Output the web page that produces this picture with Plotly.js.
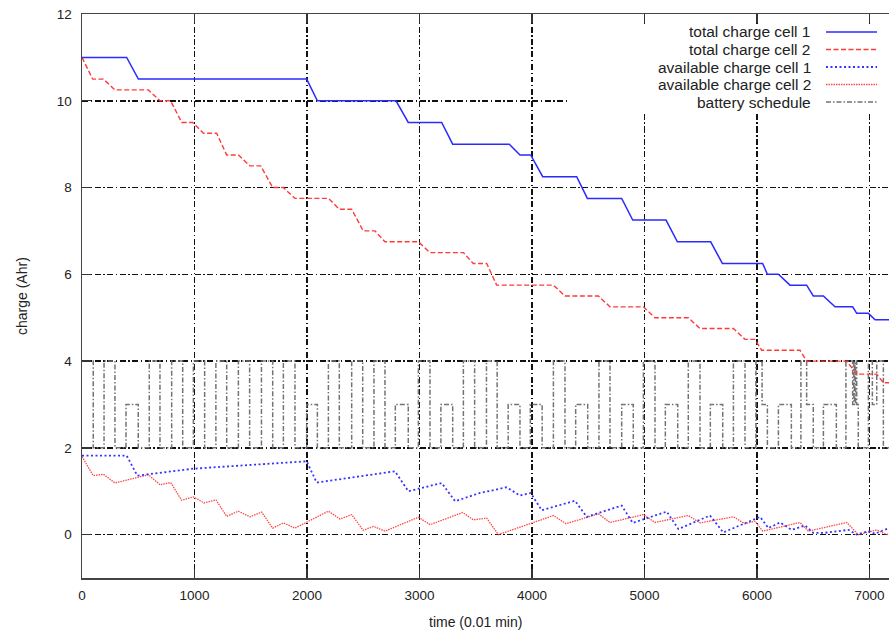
<!DOCTYPE html>
<html>
<head>
<meta charset="utf-8">
<script src="https://cdn.plot.ly/plotly-3.0.1.min.js"></script>
<style>html,body{margin:0;padding:0;background:#fff;}#chart{width:889px;height:634px;}</style>
</head>
<body>
<div id="chart"></div>
<script>
// ---- data ----
const seriesNames = ["total charge cell 1", "total charge cell 2", "available charge cell 1", "available charge cell 2", "battery schedule"];

const tc1X = [0, 397, 501, 1997, 2092, 2791, 2900, 3197, 3295, 3798, 3893, 3988, 4095, 4397, 4492, 4797, 4895, 5191, 5292, 5588, 5692, 6050, 6092, 6190, 6293, 6441, 6500, 6590, 6693, 6850, 6886, 6990, 7049, 7180];
const tc1Y = [11, 11, 10.5, 10.5, 10, 10, 9.5, 9.5, 9, 9, 8.75, 8.75, 8.25, 8.25, 7.75, 7.75, 7.25, 7.25, 6.75, 6.75, 6.25, 6.25, 6.0, 6.0, 5.75, 5.75, 5.5, 5.5, 5.25, 5.25, 5.1, 5.1, 4.95, 4.95];

const tc2X = [0, 95, 190, 293, 590, 693, 788, 886, 984, 1079, 1197, 1286, 1390, 1493, 1588, 1695, 1790, 1893, 2190, 2287, 2397, 2500, 2604, 2693, 2990, 3093, 3390, 3478, 3597, 3686, 4190, 4293, 4590, 4693, 4990, 5093, 5389, 5493, 5790, 5893, 5982, 6041, 6382, 6441, 6797, 6886, 7064, 7123, 7180];
const tc2Y = [11, 10.5, 10.5, 10.25, 10.25, 10, 10, 9.5, 9.5, 9.25, 9.25, 8.75, 8.75, 8.5, 8.5, 8, 8, 7.75, 7.75, 7.5, 7.5, 7, 7, 6.75, 6.75, 6.5, 6.5, 6.25, 6.25, 5.75, 5.75, 5.5, 5.5, 5.25, 5.25, 5, 5, 4.75, 4.75, 4.5, 4.5, 4.25, 4.25, 4, 4, 3.7, 3.7, 3.5, 3.5];

const ac1X = [0, 397, 492, 990, 1997, 2086, 2782, 2901, 3197, 3316, 3538, 3775, 3893, 3988, 4086, 4382, 4486, 4797, 4895, 5197, 5301, 5582, 5700, 6027, 6101, 6204, 6308, 6427, 6500, 6600, 6812, 6886, 6990, 7049, 7180];
const ac1Y = [1.82, 1.82, 1.36, 1.52, 1.69, 1.2, 1.46, 1.0, 1.19, 0.77, 0.96, 1.09, 0.9, 0.96, 0.56, 0.78, 0.41, 0.67, 0.27, 0.53, 0.13, 0.44, 0.05, 0.41, 0.15, 0.28, 0.11, 0.21, 0.04, 0.04, 0.11, 0.0, 0.08, 0.02, 0.16];

const ac2X = [0, 100, 190, 293, 590, 693, 788, 886, 990, 1084, 1191, 1286, 1390, 1493, 1597, 1695, 1790, 1893, 2190, 2293, 2397, 2500, 2590, 2693, 2990, 3093, 3384, 3478, 3597, 3701, 4190, 4302, 4590, 4693, 4990, 5093, 5389, 5493, 5790, 5893, 5982, 6050, 6382, 6456, 6797, 6900, 7064, 7150, 7180];
const ac2Y = [1.8, 1.36, 1.39, 1.19, 1.38, 1.15, 1.2, 0.79, 0.87, 0.73, 0.8, 0.42, 0.54, 0.41, 0.52, 0.15, 0.27, 0.15, 0.54, 0.36, 0.46, 0.1, 0.19, 0.08, 0.4, 0.23, 0.51, 0.34, 0.38, 0.0, 0.44, 0.25, 0.48, 0.28, 0.46, 0.28, 0.44, 0.27, 0.41, 0.25, 0.31, 0.08, 0.28, 0.08, 0.28, 0.0, 0.11, 0.0, 0.02];

// battery schedule: start time of each segment and its level
const schedX = [0, 100, 196, 293, 391, 500, 598, 693, 797, 895, 990, 1090, 1190, 1286, 1390, 1490, 1595, 1695, 1790, 1893, 1997, 2092, 2190, 2287, 2397, 2495, 2595, 2693, 2785, 2900, 2990, 3093, 3190, 3295, 3390, 3490, 3595, 3690, 3788, 3893, 3985, 4090, 4190, 4293, 4388, 4495, 4595, 4693, 4797, 4900, 4990, 5093, 5185, 5295, 5389, 5493, 5585, 5695, 5790, 5893, 5990, 6045, 6092, 6190, 6305, 6390, 6441, 6500, 6590, 6705, 6790, 6850, 6860, 6868, 6876, 6886, 6900, 6990, 7025, 7064, 7123, 7180];
const schedY = [4, 2, 4, 2, 3, 2, 4, 2, 4, 2, 4, 2, 4, 2, 4, 2, 4, 2, 4, 2, 3, 2, 4, 2, 4, 2, 4, 2, 3, 2, 4, 2, 3, 2, 4, 2, 4, 2, 3, 2, 3, 2, 4, 2, 3, 2, 4, 2, 3, 2, 4, 2, 3, 2, 4, 2, 3, 2, 4, 2, 4, 3, 2, 3, 2, 4, 3, 2, 3, 2, 4, 3, 4, 3, 4, 3, 2, 4, 3, 4, 2, 2];

const xTicks = [0, 1000, 2000, 3000, 4000, 5000, 6000, 7000];
const yTicks = [0, 2, 4, 6, 8, 10, 12];

// ---- styles ----
const FONT = "Liberation Sans, Arial, sans-serif";
const styles = [
  {color: "#2b2bff", width: 1.5, dash: "solid"},
  {color: "#ff3a3a", width: 1.4, dash: "5px,2.5px"},
  {color: "#3434ff", width: 1.8, dash: "2px,2.5px"},
  {color: "#ff4848", width: 1.3, dash: "1.5px,1px"},
  {color: "#737373", width: 1.5, dash: "5px,2px,1.5px,2px"}
];
const GRID_DASH = "6px,2.5px,1.5px,2.5px";

const traces = [
  {x: schedX, y: schedY, mode: "lines", line: {shape: "hv", color: styles[4].color, width: styles[4].width, dash: styles[4].dash}, name: seriesNames[4]},
  {x: ac2X, y: ac2Y, mode: "lines", line: styles[3], name: seriesNames[3]},
  {x: ac1X, y: ac1Y, mode: "lines", line: styles[2], name: seriesNames[2]},
  {x: tc2X, y: tc2Y, mode: "lines", line: styles[1], name: seriesNames[1]},
  {x: tc1X, y: tc1Y, mode: "lines", line: styles[0], name: seriesNames[0]}
];

// plot area geometry (pixels) for paper-coordinate legend placement
const L = 82, T = 14, W = 807, H = 564;
const px = v => (v - L) / W;
const py = v => (T + H - v) / H;

const legendRows = [32, 49.5, 67, 84.5, 102];
const shapes = [{
  type: "rect", xref: "paper", yref: "paper", layer: "above",
  x0: px(570), x1: 1.0, y0: py(111), y1: py(24),
  fillcolor: "#ffffff", line: {width: 0}
}];
const annotations = [];
seriesNames.forEach((n, i) => {
  annotations.push({
    xref: "paper", yref: "paper", x: px(813), y: py(legendRows[i]),
    xanchor: "right", yanchor: "middle", showarrow: false, text: n,
    font: {family: FONT, size: 15.5, color: "#222"}
  });
  shapes.push({
    type: "line", xref: "paper", yref: "paper", layer: "above",
    x0: px(826), x1: px(877), y0: py(legendRows[i]), y1: py(legendRows[i]),
    line: {color: styles[i].color, width: styles[i].width, dash: styles[i].dash}
  });
});
annotations.push({
  xref: "paper", yref: "paper", x: px(475), y: py(622), xanchor: "center", yanchor: "middle",
  showarrow: false, text: "time (0.01 min)", font: {family: FONT, size: 14, color: "#222"}
});
annotations.push({
  xref: "paper", yref: "paper", x: px(22), y: py(296), xanchor: "center", yanchor: "middle",
  showarrow: false, textangle: -90, text: "charge (Ahr)", font: {family: FONT, size: 14, color: "#222"}
});

const layout = {
  width: 889, height: 634,
  margin: {l: L, r: 0, t: T, b: 634 - T - H},
  paper_bgcolor: "#fff", plot_bgcolor: "#fff",
  showlegend: false,
  font: {family: FONT, color: "#222"},
  xaxis: {
    range: [0, 7173], tickvals: xTicks, ticktext: xTicks.map(String),
    showgrid: true, gridcolor: "#111", gridwidth: 1.5, griddash: GRID_DASH,
    zeroline: false, showline: true, linecolor: "#444", linewidth: 1.5, mirror: "ticks",
    ticks: "inside", ticklen: 9, tickcolor: "#333", tickwidth: 1.3,
    tickfont: {family: FONT, size: 13.5, color: "#222"}, ticklabelstandoff: 4
  },
  yaxis: {
    range: [-1, 12], tickvals: yTicks, ticktext: yTicks.map(String),
    showgrid: true, gridcolor: "#111", gridwidth: 1.5, griddash: GRID_DASH,
    zeroline: false, showline: true, linecolor: "#444", linewidth: 1.5, mirror: false,
    ticks: "inside", ticklen: 9, tickcolor: "#333", tickwidth: 1.3,
    tickfont: {family: FONT, size: 13.5, color: "#222"}, ticklabelstandoff: 6
  },
  shapes: shapes,
  annotations: annotations
};

Plotly.newPlot("chart", traces, layout, {displayModeBar: false, staticPlot: true});
</script>
</body>
</html>
